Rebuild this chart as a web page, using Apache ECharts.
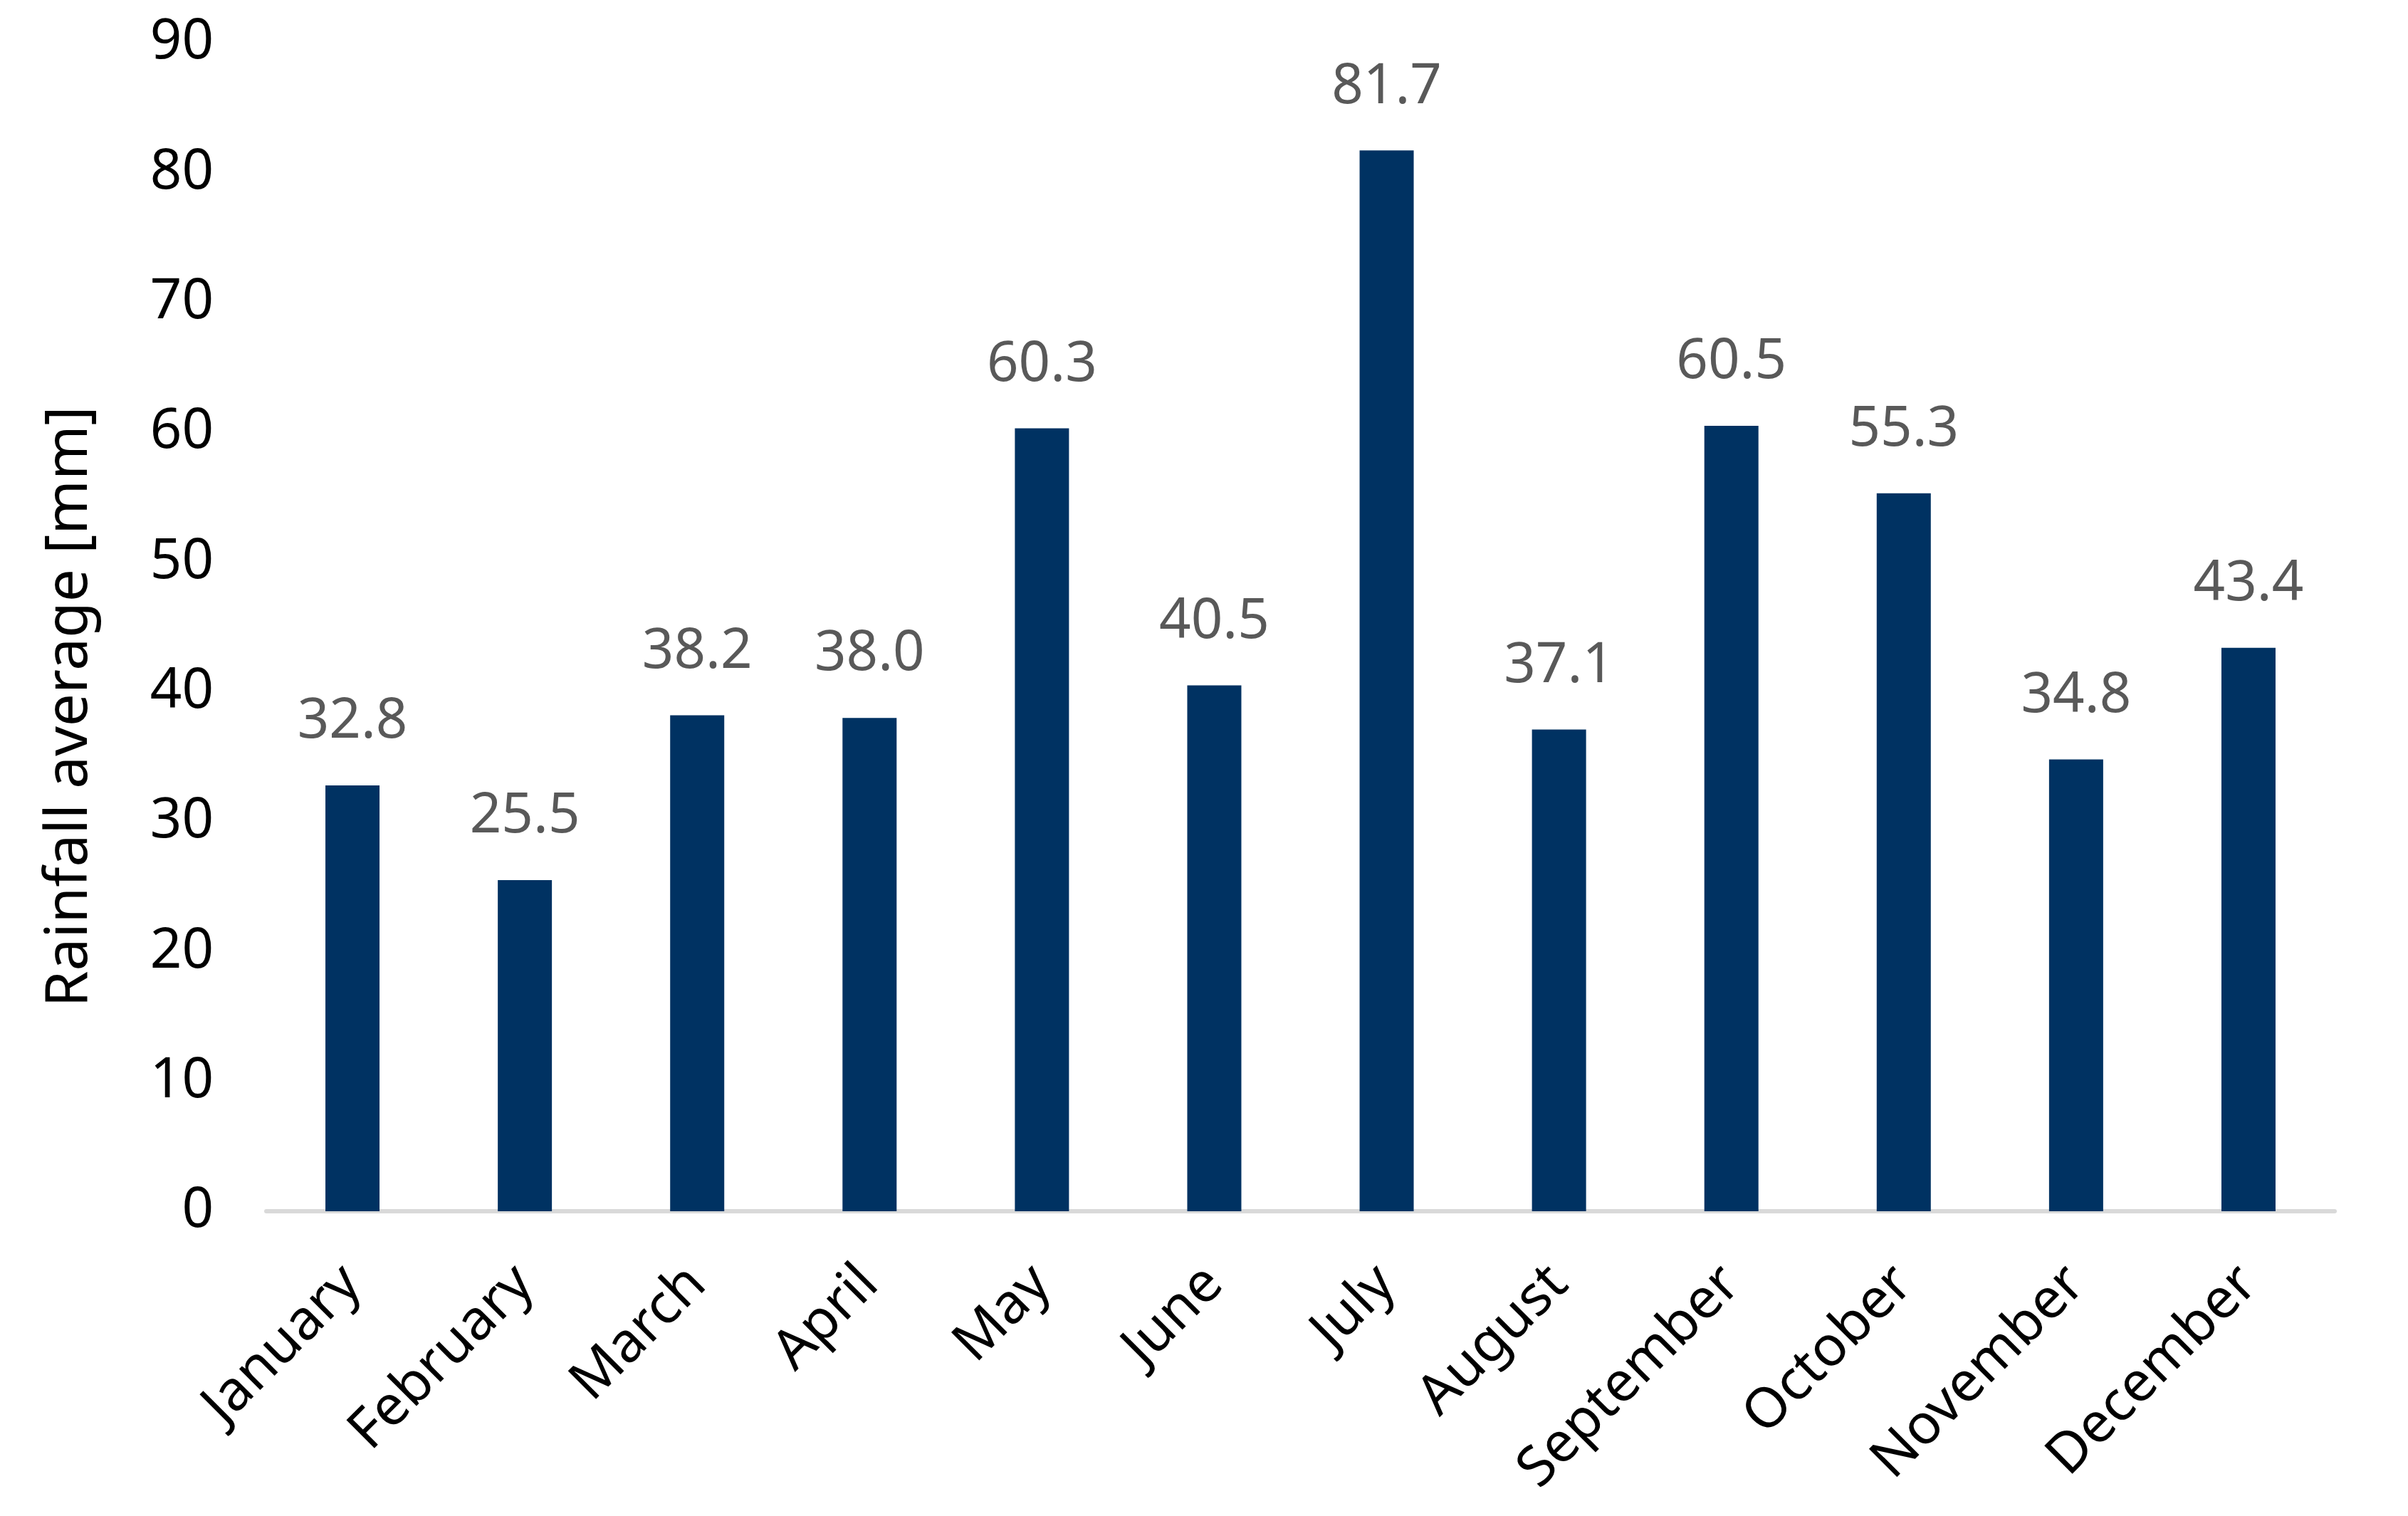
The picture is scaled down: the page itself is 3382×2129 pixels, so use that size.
<!DOCTYPE html>
<html>
<head>
<meta charset="utf-8">
<script src="https://cdn.jsdelivr.net/npm/echarts@6/dist/echarts.min.js"></script>
<style>
html,body{margin:0;padding:0;background:#fff;}
#chart{width:3382px;height:2129px;}
</style>
</head>
<body>
<div id="chart"></div>
<script>
const months = ["January","February","March","April","May","June","July","August","September","October","November","December"];
const rainfall = [32.8, 25.5, 38.2, 38.0, 60.3, 40.5, 81.7, 37.1, 60.5, 55.3, 34.8, 43.4];
const yAxisTitle = "Rainfall average [mm]";
const yMin = 0, yMax = 90, yStep = 10;

const FONT = '"Noto Sans", "Open Sans", sans-serif';
const chart = echarts.init(document.getElementById('chart'), null, {renderer: 'canvas'});
chart.setOption({
  backgroundColor: '#ffffff',
  animation: false,
  grid: {left: 374, right: 103, top: 60, bottom: 428, containLabel: false},
  xAxis: {
    type: 'category',
    data: months,
    axisLine: {show: true, lineStyle: {color: '#d9d9d9', width: 6}},
    axisTick: {show: false},
    axisLabel: {
      rotate: 45,
      interval: 0,
      margin: 90,
      color: '#000000',
      fontSize: 78,
      fontFamily: FONT
    }
  },
  yAxis: {
    type: 'value',
    min: yMin, max: yMax, interval: yStep,
    name: yAxisTitle,
    nameLocation: 'middle',
    nameGap: 234,
    nameRotate: 90,
    nameTextStyle: {color: '#000000', fontSize: 82, fontFamily: FONT, padding: [0, 224, 0, 0]},
    axisLine: {show: false},
    axisTick: {show: false},
    splitLine: {show: false},
    axisLabel: {color: '#000000', fontSize: 78, fontFamily: FONT, margin: 74}
  },
  series: [{
    type: 'bar',
    data: rainfall,
    barWidth: 76,
    itemStyle: {color: '#003262'},
    label: {
      show: true,
      position: 'top',
      distance: 50,
      color: '#595959',
      fontSize: 78,
      fontFamily: FONT,
      formatter: p => p.value.toFixed(1)
    }
  }]
});
</script>
</body>
</html>
